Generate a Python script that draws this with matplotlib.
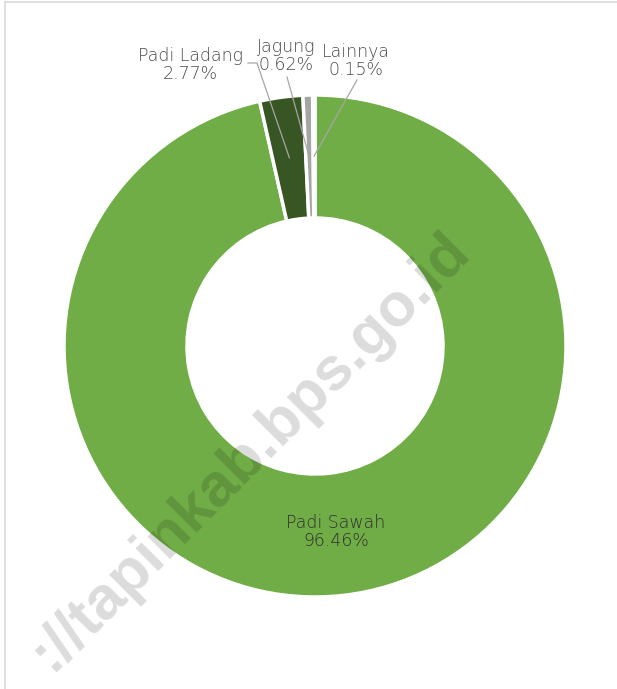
import numpy as np
import matplotlib
matplotlib.use("Agg")
import matplotlib.pyplot as plt

# data
labels = ["Padi Sawah", "Padi Ladang", "Jagung", "Lainnya"]
shares = [96.46, 2.77, 0.62, 0.15]
colors = ["#70AD47", "#375623", "#A5A5A5", "#D9D9D9"]

plt.rcParams["font.family"] = ["DejaVu Sans"]

W, H = 617, 689
fig = plt.figure(figsize=(W / 100, H / 100), dpi=100)
ax = fig.add_axes([0, 0, 1, 1])

cx, cy = 315, H - 346
R = 251
wedges, _ = ax.pie(shares, colors=colors, startangle=90, counterclock=False,
                   radius=R, center=(cx, cy), frame=True,
                   wedgeprops=dict(width=123, edgecolor="white", linewidth=2.5))
ax.set_xlim(0, W)
ax.set_ylim(0, H)
ax.axis("off")

# chart border
ax.plot([5, 5], [0, H - 2], color="#D9D9D9", lw=1.2)
ax.plot([5, W], [H - 2, H - 2], color="#D9D9D9", lw=1.2)

def mid_point(w, r):
    a = np.deg2rad((w.theta1 + w.theta2) / 2)
    return cx + r * np.cos(a), cy + r * np.sin(a)

txt = "#4A4A4A"
fs = 12.5
# inside label
ax.text(336, H - 532, f"{labels[0]}\n{shares[0]:.2f}%", ha="center", va="center",
        fontsize=fs, color="#2E2E2E", linespacing=0.95, fontweight="light")

# outside labels with leader lines
pos = [None, (190, H - 65), (286, H - 56), (356, H - 61)]
starts = [None, [(248, H - 63), (257, H - 63)], [(287, H - 77)], [(357, H - 80)]]
radii = [None, 190, 188, 190]
for i in range(1, 4):
    tx, ty = pos[i]
    ax.text(tx, ty, f"{labels[i]}\n{shares[i]:.2f}%", ha="center", va="center",
            fontsize=fs, color=txt, linespacing=0.95, fontweight="light")
    ex, ey = mid_point(wedges[i], radii[i])
    pts = starts[i] + [(ex, ey)]
    ax.plot([p[0] for p in pts], [p[1] for p in pts], color="#A6A6A6", lw=0.9)

# watermark
ax.text(250, H - 452, "://tapinkab.bps.go.id", rotation=45, ha="center", va="center",
        fontsize=44, fontweight="bold", color="black", alpha=0.14,
        family=["Liberation Sans"])

fig.savefig("out.png", dpi=100)
